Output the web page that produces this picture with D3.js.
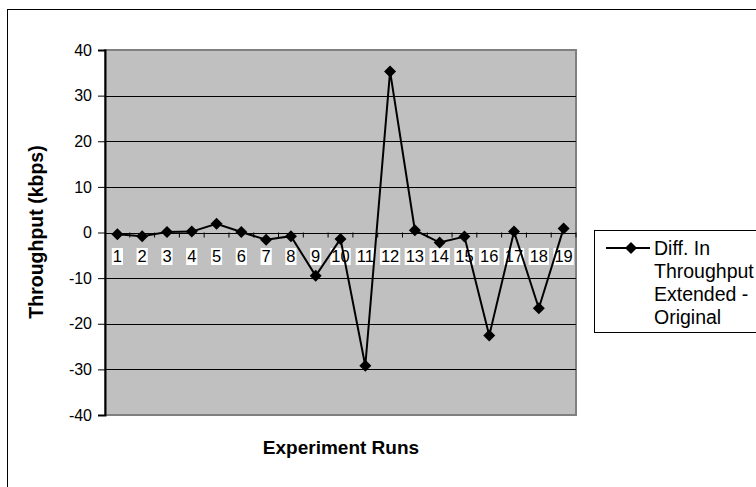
<!DOCTYPE html>
<html>
<head>
<meta charset="utf-8">
<script src="https://cdn.jsdelivr.net/npm/d3@7"></script>
<style>
  body { margin: 0; background: #fff; }
  text { font-family: Arial, "Liberation Sans", sans-serif; }
</style>
</head>
<body>
<svg id="chart" width="756" height="487"></svg>
<script>
// experiment runs and throughput difference (extended - original)
var runs = ["1","2","3","4","5","6","7","8","9","10","11","12","13","14","15","16","17","18","19"];
var diffValues = [-0.4, -0.8, 0.1, 0.2, 1.9, 0.1, -1.6, -0.8, -9.5, -1.4, -29.2, 35.3, 0.5, -2.2, -0.9, -22.6, 0.2, -16.6, 0.9];
var yTicks = [-40, -30, -20, -10, 0, 10, 20, 30, 40];
var legendLines = ["Diff. In", "Throughput", "Extended -", "Original"];

var svg = d3.select("#chart");

// outer frame (runs off the right and bottom edge)
svg.append("rect")
  .attr("x", 7.5).attr("y", 9.5)
  .attr("width", 760).attr("height", 490)
  .style("fill", "#fff").style("stroke", "#000");

var x = d3.scaleBand().domain(runs).range([105, 576]);
var y = d3.scaleLinear().domain([-40, 40]).range([415, 50]);

// plot area
svg.append("rect")
  .attr("x", 105).attr("y", y(40))
  .attr("width", 471).attr("height", y(-40) - y(40))
  .style("fill", "#c0c0c0").style("stroke", "#808080").style("stroke-width", 2);

// gridlines
svg.selectAll(".grid")
  .data(yTicks.filter(function (d) { return d != 40 && d != -40; }))
  .enter().append("line")
  .attr("x1", 105).attr("x2", 576)
  .attr("y1", function (d) { return Math.round(y(d)) + 0.5; })
  .attr("y2", function (d) { return Math.round(y(d)) + 0.5; })
  .style("stroke", "#000");

// y axis
var yAxis = d3.axisLeft(y).tickValues(yTicks).tickSize(7).tickPadding(6)
  .tickFormat(function (d) { return String(d); });
var gy = svg.append("g").attr("transform", "translate(105,0)").call(yAxis);
gy.attr("font-size", 16).attr("font-family", "Arial, 'Liberation Sans', sans-serif");
gy.select(".domain").style("stroke", "#000").style("stroke-width", 2);
gy.selectAll("text").style("fill", "#000");
gy.selectAll(".tick line").style("stroke", "#000");

// category tick marks on the zero line
var bounds = runs.slice(1).map(function (r) { return x(r); }).concat([576]);
svg.selectAll(".ctick")
  .data(bounds)
  .enter().append("line")
  .attr("x1", function (d) { return d; }).attr("x2", function (d) { return d; })
  .attr("y1", y(0)).attr("y2", y(0) + 5)
  .style("stroke", "#000");

// category labels with white boxes
var lab = svg.selectAll(".clab")
  .data(runs)
  .enter().append("g")
  .attr("transform", function (d) { return "translate(" + (x(d) + x.bandwidth() / 2) + "," + (y(0) + 24) + ")"; });
lab.append("text")
  .text(function (d) { return d; })
  .attr("text-anchor", "middle")
  .attr("dy", "0.36em")
  .style("font-size", "16.5px");
lab.each(function () {
  var g = d3.select(this);
  var b = g.select("text").node().getBBox();
  g.insert("rect", "text")
    .attr("x", b.x - 1).attr("y", -8.5)
    .attr("width", b.width + 2).attr("height", 17)
    .style("fill", "#fff");
});

// series line and diamond markers
function diamond(r) {
  return "M0," + (-r) + "L" + r + ",0L0," + r + "L" + (-r) + ",0Z";
}
var line = d3.line()
  .x(function (d, i) { return x(runs[i]) + x.bandwidth() / 2; })
  .y(function (d) { return y(d); });
svg.append("path")
  .datum(diffValues)
  .attr("d", line)
  .style("fill", "none").style("stroke", "#000").style("stroke-width", 2);
svg.selectAll(".pt")
  .data(diffValues)
  .enter().append("path")
  .attr("d", diamond(6))
  .attr("transform", function (d, i) { return "translate(" + (x(runs[i]) + x.bandwidth() / 2) + "," + y(d) + ")"; })
  .style("fill", "#000");

// axis titles
svg.append("text")
  .text("Experiment Runs")
  .attr("x", 341).attr("y", 454)
  .attr("text-anchor", "middle")
  .style("font-size", "19px").style("font-weight", "bold");
svg.append("text")
  .text("Throughput (kbps)")
  .attr("transform", "translate(43,232) rotate(-90)")
  .attr("text-anchor", "middle")
  .style("font-size", "19.5px").style("font-weight", "bold");

// legend
svg.append("rect")
  .attr("x", 594.5).attr("y", 230.5)
  .attr("width", 170).attr("height", 102)
  .style("fill", "#fff").style("stroke", "#000");
svg.append("line")
  .attr("x1", 606).attr("x2", 650).attr("y1", 248).attr("y2", 248)
  .style("stroke", "#000").style("stroke-width", 2);
svg.append("path")
  .attr("d", diamond(6))
  .attr("transform", "translate(631,248)")
  .style("fill", "#000");
svg.selectAll(".leg")
  .data(legendLines)
  .enter().append("text")
  .text(function (d) { return d; })
  .attr("x", 654)
  .attr("y", function (d, i) { return 255 + i * 23; })
  .style("font-size", "19.5px");
</script>
</body>
</html>
